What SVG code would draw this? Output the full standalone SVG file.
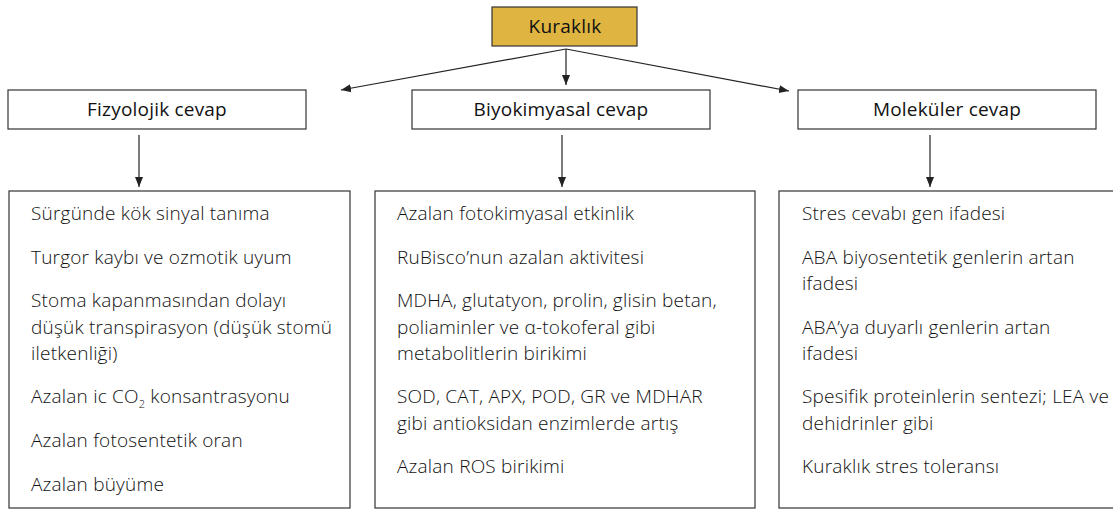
<svg xmlns="http://www.w3.org/2000/svg" width="1113" height="510" viewBox="0 0 1113 510">
<defs>
<marker id="ah" viewBox="0 0 10 10" refX="10" refY="5" markerWidth="10" markerHeight="10" markerUnits="userSpaceOnUse" orient="auto">
<path d="M0,1 L10,5 L0,9 Z" fill="#222"/>
</marker>
<style>
.box{fill:#fff;stroke:#333;stroke-width:1.2}
.hd{font-family:"Open Sans","Liberation Sans",sans-serif;font-size:19px;fill:#111;text-anchor:middle;letter-spacing:0.2px}
.t{font-family:"Open Sans","Liberation Sans",sans-serif;font-size:19px;font-weight:300;fill:#111;letter-spacing:0.2px}
.c{stroke:#222;stroke-width:1.2;fill:none;marker-end:url(#ah)}
</style>
</defs>
<rect width="1113" height="510" fill="#fff"/>
<g id="connectors">
<line class="c" x1="566" y1="49" x2="341" y2="90"/>
<line class="c" x1="566" y1="49" x2="566" y2="85"/>
<line class="c" x1="566" y1="49" x2="789" y2="91"/>
<line class="c" x1="139" y1="135" x2="139" y2="187"/>
<line class="c" x1="562" y1="135" x2="562" y2="187"/>
<line class="c" x1="930" y1="135" x2="930" y2="187"/>
</g>
<g id="kuraklik">
<rect x="492" y="7" width="145" height="39" fill="#E0B441" stroke="#333" stroke-width="1.2"/>
<text class="hd" x="565" y="33">Kuraklık</text>
</g>
<g id="fizyolojik">
<rect class="box" x="8" y="90" width="298" height="39"/>
<text class="hd" x="157" y="116">Fizyolojik cevap</text>
</g>
<g id="biyokimyasal">
<rect class="box" x="412" y="90" width="298" height="39"/>
<text class="hd" x="561" y="116">Biyokimyasal cevap</text>
</g>
<g id="molekuler">
<rect class="box" x="798" y="90" width="298" height="39"/>
<text class="hd" x="947" y="116">Moleküler cevap</text>
</g>
<g id="fizyolojik-list">
<rect class="box" x="9" y="191" width="341" height="317"/>
<text class="t" x="31" y="220">Sürgünde kök sinyal tanıma</text>
<text class="t" x="31" y="264">Turgor kaybı ve ozmotik uyum</text>
<text class="t" x="31" y="307">Stoma kapanmasından dolayı</text>
<text class="t" x="31" y="334">düşük transpirasyon (düşük stomü</text>
<text class="t" x="31" y="360">iletkenliği)</text>
<text class="t" x="31" y="403">Azalan ic CO<tspan font-size="11" dy="5">2</tspan><tspan dy="-5"> konsantrasyonu</tspan></text>
<text class="t" x="31" y="447">Azalan fotosentetik oran</text>
<text class="t" x="31" y="491">Azalan büyüme</text>
</g>
<g id="biyokimyasal-list">
<rect class="box" x="375" y="191" width="380" height="317"/>
<text class="t" x="397" y="220">Azalan fotokimyasal etkinlik</text>
<text class="t" x="397" y="264">RuBisco’nun azalan aktivitesi</text>
<text class="t" x="397" y="307">MDHA, glutatyon, prolin, glisin betan,</text>
<text class="t" x="397" y="334">poliaminler ve α-tokoferal gibi</text>
<text class="t" x="397" y="360">metabolitlerin birikimi</text>
<text class="t" x="397" y="403">SOD, CAT, APX, POD, GR ve MDHAR</text>
<text class="t" x="397" y="430">gibi antioksidan enzimlerde artış</text>
<text class="t" x="397" y="473">Azalan ROS birikimi</text>
</g>
<g id="molekuler-list">
<rect class="box" x="779" y="191" width="340" height="317"/>
<text class="t" x="802" y="220">Stres cevabı gen ifadesi</text>
<text class="t" x="802" y="264">ABA biyosentetik genlerin artan</text>
<text class="t" x="802" y="290">ifadesi</text>
<text class="t" x="802" y="334">ABA’ya duyarlı genlerin artan</text>
<text class="t" x="802" y="360">ifadesi</text>
<text class="t" x="802" y="403">Spesifik proteinlerin sentezi; LEA ve</text>
<text class="t" x="802" y="430">dehidrinler gibi</text>
<text class="t" x="802" y="473">Kuraklık stres toleransı</text>
</g>
</svg>
